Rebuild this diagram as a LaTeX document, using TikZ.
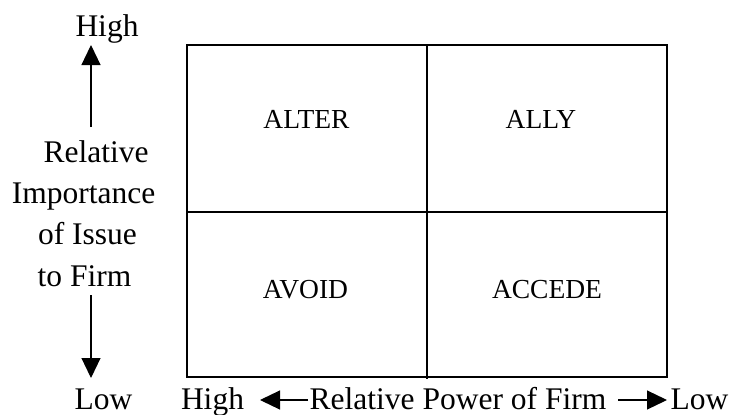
\documentclass[tikz,border=0pt]{standalone}
\usepackage{fontspec}
\setmainfont{Liberation Serif}
\usetikzlibrary{arrows.meta}
\begin{document}
\begin{tikzpicture}[x=1pt,y=-1pt,
  lbl/.style={font=\fontsize{31.5}{37}\selectfont, inner sep=0pt, anchor=base},
  quad/.style={font=\fontsize{27.5}{33}\selectfont, inner sep=0pt, anchor=base},
  gridline/.style={line width=1.5pt},
  axis/.style={line width=1.2pt, -{Triangle[length=20pt,width=19pt]}}]
\useasboundingbox (0,0) rectangle (734,415);

% the 2x2 matrix
\coordinate (nw) at (187,45);
\coordinate (se) at (667,377);
\draw[gridline] (nw) rectangle (se);
\draw[gridline] (187,212) -- (667,212);
\draw[gridline] (427,45) -- (427,379);

% quadrant labels
\node[quad] (alter)  at (306.5,128.3) {ALTER};
\node[quad] (ally)   at (541,128.3)   {ALLY};
\node[quad] (avoid)  at (305.5,298)   {AVOID};
\node[quad] (accede) at (547,298)     {ACCEDE};

% vertical axis: importance of the issue
\node[lbl] (vhigh) at (107,36.7)  {High};
\node[lbl] (vl1)   at (96,162)    {Relative};
\node[lbl] (vl2)   at (83.5,203)  {Importance};
\node[lbl] (vl3)   at (87.5,244.5){of Issue};
\node[lbl] (vl4)   at (84.5,286.5){to Firm};
\node[lbl] (vlow)  at (103.5,409) {Low};
\coordinate (uptail)  at (91,127);
\coordinate (uptip)   at (91,45);
\coordinate (dntail)  at (91,295);
\coordinate (dntip)   at (91,378);
\draw[axis] (uptail) -- (uptip);
\draw[axis] (dntail) -- (dntip);

% horizontal axis: power of the firm
\node[lbl] (hhigh)  at (212.5,409) {High};
\node[lbl] (hpower) at (458,409)   {Relative Power of Firm};
\node[lbl] (hlow)   at (699.5,409) {Low};
\coordinate (lttail) at (308,400);
\coordinate (lttip)  at (260,400);
\coordinate (rttail) at (618,400);
\coordinate (rttip)  at (667,400);
\draw[axis] (lttail) -- (lttip);
\draw[axis] (rttail) -- (rttip);
\end{tikzpicture}
\end{document}
